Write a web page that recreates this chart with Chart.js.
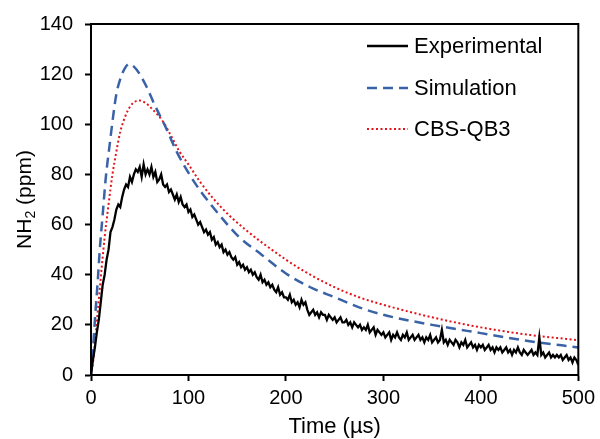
<!DOCTYPE html>
<html>
<head>
<meta charset="utf-8">
<script src="https://cdn.jsdelivr.net/npm/chart.js@4.4.1/dist/chart.umd.min.js"></script>
<style>
  html, body { margin: 0; padding: 0; background: #fff; }
  #wrap { width: 600px; height: 439px; }
</style>
</head>
<body>
<div id="wrap"><canvas id="nh2Chart" width="600" height="439"></canvas></div>
<script>
// measured NH2 trace, one reading every 2 us starting at t = 0
let expStep = 2;
let expValues = [
    0, 6, 11, 17, 22, 29, 36, 40, 46, 50,
    57, 59, 62, 66, 68, 67, 71, 74, 76, 75,
    79, 77, 80, 82, 81, 83, 79, 84, 80, 82,
    80, 83, 79, 81, 77, 78, 80, 76, 75, 76,
    73, 74, 72, 70, 72, 69, 71, 68, 67, 68,
    65, 66, 63, 64, 62, 60, 61, 59, 57, 58,
    56, 57, 54, 55, 52, 53, 51, 52, 49, 50,
    48, 49, 47, 46, 47, 44, 45, 43, 44, 42,
    43, 41, 42, 40, 41, 39, 38, 40, 37, 38,
    36, 37, 35, 36, 34, 33, 35, 32, 33, 31,
    31, 30, 32, 29, 30, 28, 29, 27, 30, 28,
    29, 26, 24, 25, 26, 24, 25, 23, 25, 24,
    24, 22, 24, 23, 22, 23, 21, 22, 23, 21,
    21, 22, 20, 21, 19, 21, 20, 19, 20, 18,
    19, 18, 20, 17, 18, 19, 16, 18, 17, 16,
    17, 15, 16, 17, 14, 16, 15, 17, 15, 14,
    16, 15, 17, 14, 15, 16, 14, 15, 16, 14,
    15, 13, 15, 14, 16, 13, 14, 15, 13, 14,
    18, 13, 14, 12, 14, 13, 12, 14, 13, 11,
    13, 12, 14, 11, 12, 13, 11, 12, 10, 12,
    11, 12, 10, 11, 12, 10, 11, 9, 11, 10,
    11, 9, 10, 11, 9, 10, 8, 10, 9, 11,
    9, 8, 10, 9, 8, 9, 10, 8, 9, 8,
    15, 8, 9, 7, 8, 9, 7, 8, 7, 8,
    7, 8, 6, 7, 8, 6, 7, 5, 7, 6,
    4
];

// simulated profile
let simTime = [0, 2, 4, 7, 9, 12, 15, 19.5, 23, 26, 30, 35, 39, 44, 50, 57, 65, 77, 88, 101,
    113, 125, 140, 152, 175, 200, 225, 250, 275, 300, 350, 400, 450, 500];
let simValues = [0, 10, 22, 38, 50, 64, 78, 93, 104, 112, 118, 122.5, 124, 123, 120, 115, 108, 98.5, 89, 80,
    73, 67, 60, 55, 48, 40.5, 35, 31, 27, 24, 20, 16.7, 13.5, 11];

// CBS-QB3 profile
let cbsTime = [0, 2, 5, 8, 11, 14, 18, 22, 26, 30, 35, 40, 45, 50, 56, 63, 74, 82, 91, 100,
    112, 125, 145, 200, 225, 250, 275, 300, 350, 400, 450, 500];
let cbsValues = [0, 5, 17, 30, 43, 55, 68, 80, 89, 97, 103, 107, 109, 109.5, 108.5, 106, 101, 95.5, 89, 84,
    77, 70.6, 62.5, 46, 40, 35, 31, 28, 23, 19, 16, 13.9];

let seriesLabels = ['Experimental', 'Simulation', 'CBS-QB3'];
let xTicks = [0, 100, 200, 300, 400, 500];
let yTicks = [0, 20, 40, 60, 80, 100, 120, 140];

function toPoints(xs, ys) {
    return xs.map(function(x, i) { return { x: x, y: ys[i] }; });
}
let expPoints = expValues.map(function(v, i) { return { x: i * expStep, y: v }; });

const FONT = 'Arial, "Liberation Sans", sans-serif';

// box around the plot, legend inside, axis titles
const framePlugin = {
    id: 'frame',
    afterDraw(chart) {
        const ctx = chart.ctx;
        const a = chart.chartArea;
        ctx.save();
        ctx.strokeStyle = '#000';
        ctx.lineWidth = 2;
        ctx.strokeRect(a.left, a.top, a.right - a.left, a.bottom - a.top);

        // legend
        ctx.font = '22px ' + FONT;
        ctx.textBaseline = 'middle';
        ctx.textAlign = 'left';
        ctx.fillStyle = '#000';
        const rows = [46, 88, 129];
        chart.data.datasets.forEach(function(ds, i) {
            const y = rows[i];
            ctx.beginPath();
            ctx.strokeStyle = ds.borderColor;
            ctx.lineWidth = ds.borderWidth;
            ctx.setLineDash(ds.borderDash || []);
            ctx.moveTo(367, y);
            ctx.lineTo(408, y);
            ctx.stroke();
            ctx.setLineDash([]);
            ctx.fillText(ds.label, 414, y + 1);
        });

        // x title
        ctx.textAlign = 'center';
        ctx.font = '22px ' + FONT;
        ctx.fillText('Time (\u00b5s)', (a.left + a.right) / 2, 427);

        // y title with subscript
        ctx.translate(25, (a.top + a.bottom) / 2);
        ctx.rotate(-Math.PI / 2);
        ctx.textAlign = 'left';
        const big = '21px ' + FONT;
        const small = '14px ' + FONT;
        ctx.font = big;
        const w1 = ctx.measureText('NH').width;
        const w3 = ctx.measureText(' (ppm)').width;
        ctx.font = small;
        const w2 = ctx.measureText('2').width;
        let x0 = -(w1 + w2 + w3) / 2;
        ctx.font = big;
        ctx.fillText('NH', x0, 0);
        ctx.font = small;
        ctx.fillText('2', x0 + w1, 6);
        ctx.font = big;
        ctx.fillText(' (ppm)', x0 + w1 + w2, 0);
        ctx.restore();
    }
};

new Chart(document.getElementById('nh2Chart'), {
    type: 'line',
    data: {
        datasets: [
            {
                label: seriesLabels[0],
                data: expPoints,
                borderColor: '#000000',
                borderWidth: 2.3,
                pointRadius: 0,
                tension: 0
            },
            {
                label: seriesLabels[1],
                data: toPoints(simTime, simValues),
                borderColor: '#3a62a7',
                borderWidth: 2.5,
                borderDash: [10, 6],
                pointRadius: 0,
                cubicInterpolationMode: 'monotone'
            },
            {
                label: seriesLabels[2],
                data: toPoints(cbsTime, cbsValues),
                borderColor: '#e3141b',
                borderWidth: 2,
                borderDash: [2, 2.5],
                pointRadius: 0,
                cubicInterpolationMode: 'monotone'
            }
        ]
    },
    options: {
        responsive: false,
        animation: false,
        layout: { padding: { top: 22, right: 20, left: 0, bottom: 0 } },
        plugins: {
            legend: { display: false },
            tooltip: { enabled: false }
        },
        scales: {
            x: {
                type: 'linear',
                min: 0,
                max: 500,
                afterFit(scale) { scale.height = 64; },
                afterBuildTicks(scale) { scale.ticks = xTicks.map(v => ({ value: v })); },
                grid: { drawOnChartArea: false, drawTicks: true, tickLength: 6, tickWidth: 2, tickColor: '#000' },
                border: { color: '#000', width: 2 },
                ticks: { color: '#000', font: { size: 20, family: FONT }, padding: 5, maxRotation: 0 }
            },
            y: {
                min: 0,
                max: 140,
                afterFit(scale) { scale.width = 91; },
                afterBuildTicks(scale) { scale.ticks = yTicks.map(v => ({ value: v })); },
                grid: { drawOnChartArea: false, drawTicks: true, tickLength: 6, tickWidth: 2, tickColor: '#000' },
                border: { color: '#000', width: 2 },
                ticks: { color: '#000', font: { size: 20, family: FONT }, padding: 12 }
            }
        }
    },
    plugins: [framePlugin]
});
</script>
</body>
</html>
